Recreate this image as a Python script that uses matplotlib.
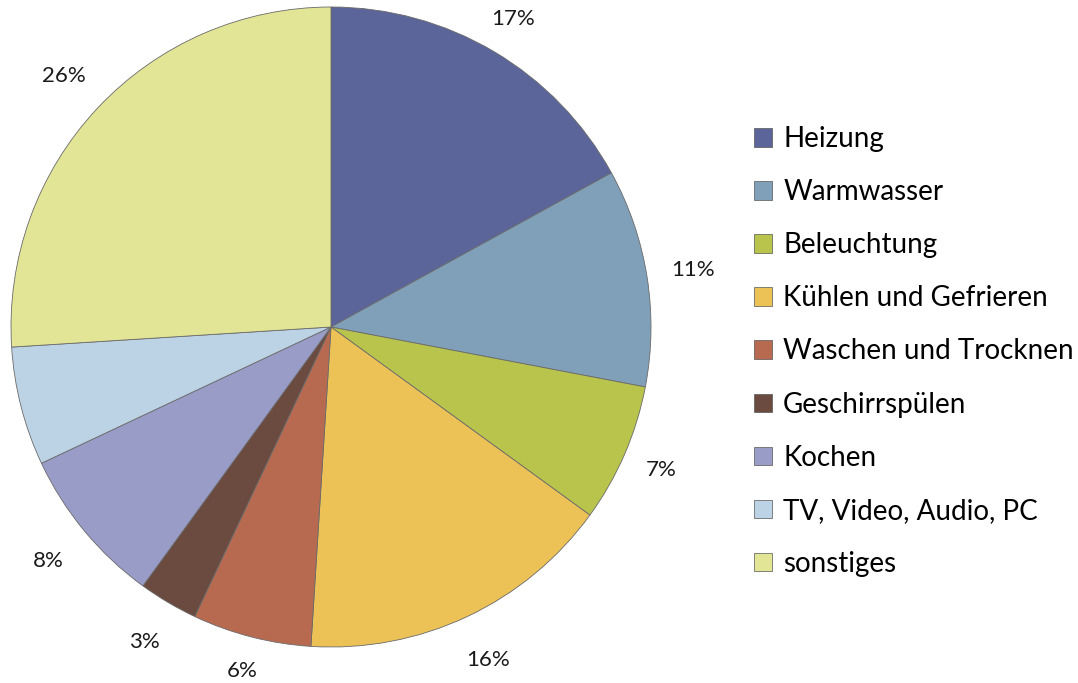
import matplotlib
matplotlib.use("Agg")
import matplotlib.pyplot as plt
from matplotlib.patches import Patch

categories = ["Heizung", "Warmwasser", "Beleuchtung", "Kühlen und Gefrieren",
              "Waschen und Trocknen", "Geschirrspülen", "Kochen",
              "TV, Video, Audio, PC", "sonstiges"]
values = [17, 11, 7, 16, 6, 3, 8, 6, 26]
colors = ["#5c6599", "#7fa0b8", "#b8c44c", "#ecc256", "#b86a50",
          "#6b4a40", "#9a9cc8", "#bcd3e6", "#e3e596"]
# label distance (in radii) per wedge, style only
label_dist = [1.12, 1.145, 1.125, 1.15, 1.11, 1.145, 1.145, 1.145, 1.145]

plt.rcParams['font.family'] = ['Lato', 'DejaVu Sans']

W, H = 1078, 683
fig = plt.figure(figsize=(W / 100, H / 100), dpi=100)
cx, cy, r = 331, 327, 320
ax = fig.add_axes([(cx - r) / W, (H - cy - r) / H, 2 * r / W, 2 * r / H])

wedges, texts = ax.pie(values, colors=colors, startangle=90, counterclock=False,
                       radius=1, labels=[f"{v}%" for v in values],
                       labeldistance=1.0,
                       wedgeprops=dict(edgecolor="#6a6a6a", linewidth=0.6),
                       textprops=dict(fontsize=16, color="#1a1a1a"))
ax.set_xlim(-1, 1)
ax.set_ylim(-1, 1)
ax.set_aspect('equal')
ax.axis('off')
for t, d in zip(texts, label_dist):
    x, y = t.get_position()
    t.set_position((x * d, y * d))
    t.set_ha('center')
    t.set_va('center')
    t.set_clip_on(False)

handles = [Patch(facecolor=c, edgecolor="#555555", linewidth=0.5) for c in colors]
fig.legend(handles, categories, loc='center left',
           bbox_to_anchor=(754 / W, 1 - 351.5 / H), frameon=False,
           fontsize=20, borderaxespad=0, borderpad=0,
           handlelength=0.65, handleheight=0.65, handletextpad=0.4,
           labelspacing=0.975)

fig.savefig("out.png", dpi=100)
